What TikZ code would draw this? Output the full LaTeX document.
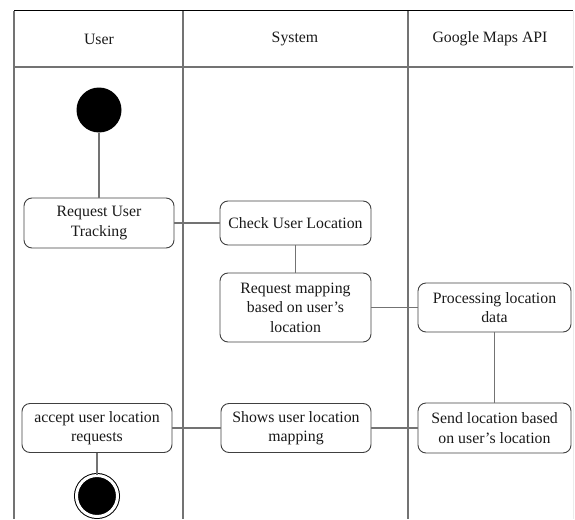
\documentclass[tikz,border=0pt]{standalone}
\usepackage{fontspec}
\setmainfont{Liberation Serif}
\usetikzlibrary{positioning}

\tikzset{
  lane/.style={draw=black!55, line width=1.3pt},
  flow/.style={draw=black!55, line width=1.2pt},
  action/.style={draw=black!75, line width=0.9pt, rounded corners=8pt,
    align=center, inner sep=2pt, minimum width=151pt, minimum height=49pt,
    font=\fontsize{15.8}{19.5}\selectfont, text=black!90},
  heading/.style={font=\fontsize{15.8}{18}\selectfont, text=black!90},
  initstate/.style={circle, fill=black, minimum size=45pt, inner sep=0pt},
  finalstate/.style={circle, draw=black, fill=black, line width=1pt,
    double=white, double distance=3pt, minimum size=41pt, inner sep=0pt},
}

\begin{document}
\begin{tikzpicture}[x=1pt, y=-1pt]
  \useasboundingbox (0,0) rectangle (575,519);

  % Swimlane frame
  \draw[black, line width=1pt] (14,11) -- (573,11);
  \draw[lane] (14,11) -- (14,519);
  \draw[lane] (14,67) -- (573,67);
  \draw[lane] (183,11) -- (183,519);
  \draw[lane] (408,11) -- (408,519);
  \draw[black!8, line width=1pt] (573,11) -- (573,519);

  % Lane titles
  \node[heading] (hUser) at (99,39) {User};
  \node[heading] (hSystem) at (295,39) {System};
  \node[heading] (hGoogle) at (490,39) {Google Maps API};

  % Actions
  \node[initstate] (start) at (99,110) {};
  \node[action, minimum width=150pt, minimum height=50pt] (reqtrack) at (99,223) {Request User\\Tracking};
  \node[action, minimum height=44pt] (checkloc) at (295.5,223) {Check User Location};
  \node[action, minimum height=69pt] (reqmap) at (295.5,307.5) {Request mapping\\based on user's\\location};
  \node[action, minimum width=153pt] (procdata) at (494.5,307.5) {Processing location\\data};
  \node[action, minimum width=153pt, minimum height=50pt] (sendloc) at (494.5,428) {Send location based\\on user's location};
  \node[action, minimum width=150pt] (showmap) at (296,428) {Shows user location\\mapping};
  \node[action, minimum width=150pt] (accept) at (97,428) {accept user location\\requests};
  \node[finalstate] (finish) at (97,496) {};

  % Flow
  \draw[flow] (start) -- (reqtrack);
  \draw[flow] (reqtrack) -- (checkloc);
  \draw[flow] (checkloc) -- (reqmap);
  \draw[flow] (reqmap) -- (procdata);
  \draw[flow] (procdata) -- (sendloc);
  \draw[flow] (sendloc) -- (showmap);
  \draw[flow] (showmap) -- (accept);
  \draw[flow] (accept) -- (finish);
\end{tikzpicture}
\end{document}
